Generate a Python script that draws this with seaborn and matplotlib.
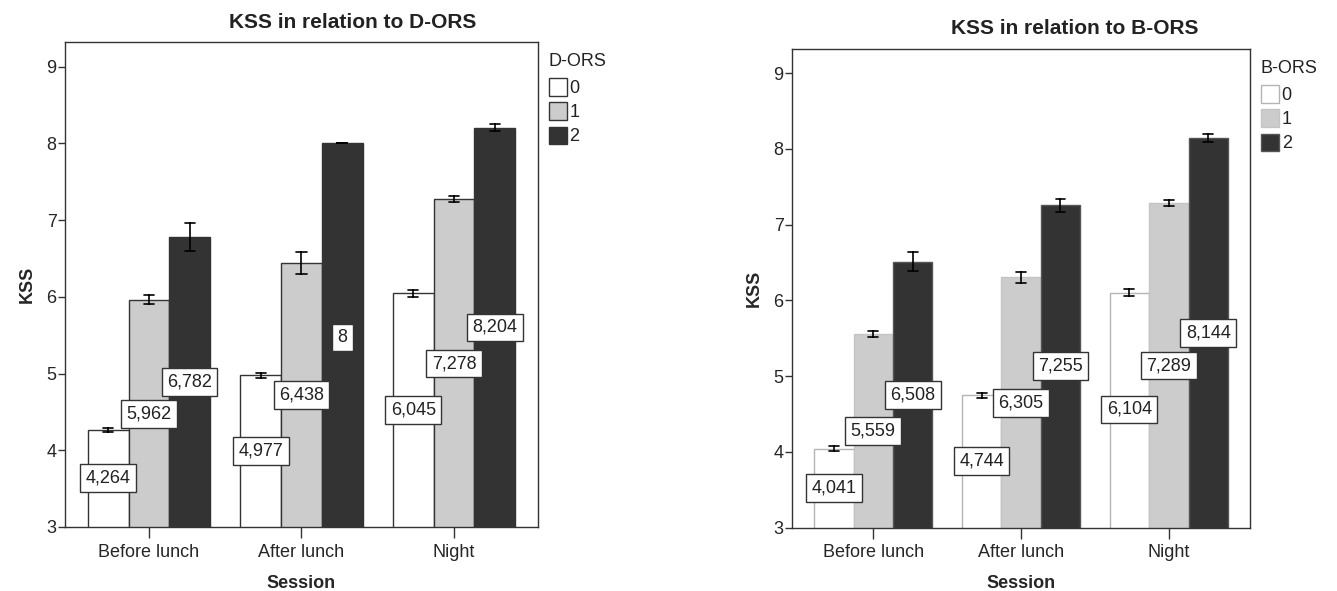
import numpy as np
import pandas as pd
import seaborn as sns
import matplotlib.pyplot as plt
from matplotlib.patches import Patch

# values (means and half-width of the error bars)
sessions = ['Before lunch', 'After lunch', 'Night']
levels = ['0', '1', '2']

dors_mean = [[4.264, 5.962, 6.782], [4.977, 6.438, 8.0], [6.045, 7.278, 8.204]]
dors_err = [[0.03, 0.055, 0.18], [0.03, 0.145, 0.0], [0.045, 0.04, 0.05]]
dors_label_y = [[3.64, 4.47, 4.89], [3.99, 4.72, 5.47], [4.52, 5.13, 5.60]]

bors_mean = [[4.041, 5.559, 6.508], [4.744, 6.305, 7.255], [6.104, 7.289, 8.144]]
bors_err = [[0.035, 0.04, 0.125], [0.03, 0.075, 0.085], [0.045, 0.04, 0.05]]
bors_label_y = [[3.52, 4.28, 4.75], [3.88, 4.65, 5.13], [4.56, 5.14, 5.57]]

fills = ['white', '#cccccc', '#333333']


def long_table(means, errs):
    # two rows per cell so that min/max give the error bar ends
    rows = []
    for s, sess in enumerate(sessions):
        for l, lev in enumerate(levels):
            m, e = means[s][l], errs[s][l]
            rows.append((sess, lev, m - e))
            rows.append((sess, lev, m + e))
    return pd.DataFrame(rows, columns=['Session', 'ORS', 'KSS'])


sns.set_style('white')
plt.rcParams['font.family'] = ['Liberation Sans Narrow', 'Liberation Sans', 'DejaVu Sans']
plt.rcParams['text.color'] = '#222222'

fig = plt.figure(figsize=(13.37, 5.91), dpi=100)
ax1 = fig.add_axes([0.0486, 0.1083, 0.3538, 0.8206])
ax2 = fig.add_axes([0.5924, 0.1074, 0.3426, 0.8096])

panels = [
    (ax1, dors_mean, dors_err, dors_label_y, 'D-ORS', ['#333333', '#333333', '#333333']),
    (ax2, bors_mean, bors_err, bors_label_y, 'B-ORS', ['#b4b4b4', '#c4c4c4', '#555555']),
]

for ax, means, errs, lab_y, name, edges in panels:
    df = long_table(means, errs)
    sns.barplot(data=df, x='Session', y='KSS', hue='ORS', order=sessions,
                hue_order=levels, palette=fills, width=0.8, gap=0,
                errorbar=lambda v: (v.min(), v.max()), capsize=0.2,
                err_kws={'color': 'black', 'linewidth': 1.2},
                linewidth=1.0, legend=False, ax=ax)
    for l, cont in enumerate(ax.containers):
        for s, bar in enumerate(cont):
            bar.set_edgecolor(edges[l])
            x = bar.get_x() + bar.get_width() / 2
            txt = ('%g' % means[s][l]).replace('.', ',')
            ax.text(x, lab_y[s][l], txt, ha='center', va='center', fontsize=13,
                    zorder=5,
                    bbox=dict(boxstyle='square,pad=0.3', fc='white', ec='#333333', lw=1))
    ax.set_xlim(-0.55, 2.55)
    ax.set_ylim(3, 9.32)
    ax.set_yticks([3, 4, 5, 6, 7, 8, 9])
    ax.tick_params(axis='y', left=True, length=5, width=1, color='#333333',
                   labelsize=13, pad=1)
    ax.tick_params(axis='x', bottom=True, length=8, width=1, color='#333333',
                   labelsize=13, pad=4)
    for sp in ax.spines.values():
        sp.set_color('#333333')
        sp.set_linewidth(1.0)
    ax.set_ylabel('KSS', fontsize=13, fontweight='bold', labelpad=8)
    ax.set_xlabel('Session', fontsize=13, fontweight='bold', labelpad=10)
    handles = [Patch(facecolor=fills[i], edgecolor=edges[i], lw=1) for i in range(3)]
    leg = ax.legend(handles, levels, title=name, loc='upper left',
                    bbox_to_anchor=(1.0, 1.0), frameon=False, fontsize=13,
                    title_fontsize=13, handlelength=1.0, handleheight=1.1,
                    handletextpad=0.15, labelspacing=0.3, borderaxespad=0.2)
    leg._legend_box.align = 'left'
    leg._legend_box.sep = 6

fig.text(353 / 1337, 1 - 23 / 591, 'KSS in relation to D-ORS', ha='center',
         va='center', fontsize=15, fontweight='bold')
fig.text(1075 / 1337, 1 - 29 / 591, 'KSS in relation to B-ORS', ha='center',
         va='center', fontsize=15, fontweight='bold')

fig.savefig('out.png', dpi=100, facecolor='white')
